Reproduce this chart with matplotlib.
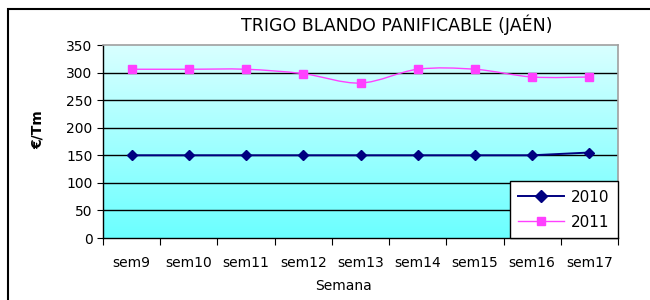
import numpy as np
import matplotlib
matplotlib.use("Agg")
import matplotlib.pyplot as plt
from matplotlib.path import Path
from matplotlib.patches import PathPatch, Rectangle
from matplotlib.lines import Line2D

categories = ["sem9", "sem10", "sem11", "sem12", "sem13", "sem14", "sem15", "sem16", "sem17"]
s2010 = [150, 150, 150, 150, 150, 150, 150, 150, 155]
s2011 = [306, 306, 306, 298, 281, 306, 306, 292, 292]
yticks = [0, 50, 100, 150, 200, 250, 300, 350]

plt.rcParams['font.family'] = ['DejaVu Sans']
fig = plt.figure(figsize=(6.5, 3.0), dpi=100)
W, H = 650, 300
ax = fig.add_axes([103 / W, 1 - 238 / H, (618 - 103) / W, (238 - 45) / H])

# gradient background
grad = np.linspace(0, 1, 256).reshape(-1, 1)
c_top = np.array([0.85, 1.0, 1.0])
c_bot = np.array([0.42, 1.0, 1.0])
img = c_bot + (c_top - c_bot) * grad
ax.imshow(img[:, None, :].repeat(2, axis=1), extent=[0, 1, 0, 1], transform=ax.transAxes,
          origin='lower', aspect='auto', zorder=0)

x = np.arange(len(categories))
ax.set_xlim(-0.5, len(categories) - 0.5)
ax.set_ylim(0, 350)

for yv in yticks[1:-1]:
    ax.axhline(yv, color='black', lw=1.0, zorder=1)

# 2010 line
ax.plot(x, s2010, color='#000080', lw=1.4, marker='D', ms=5.5, mfc='#000080', mec='#000080', zorder=3)

# 2011 smoothed line (Catmull-Rom style bezier through the data points)
pts = np.column_stack([x, s2011]).astype(float)
verts = [tuple(pts[0])]
codes = [Path.MOVETO]
n = len(pts)
for i in range(n - 1):
    p0 = pts[i - 1] if i > 0 else pts[i]
    p1 = pts[i]
    p2 = pts[i + 1]
    p3 = pts[i + 2] if i + 2 < n else pts[i + 1]
    c1 = p1 + (p2 - p0) / 6.0
    c2 = p2 - (p3 - p1) / 6.0
    verts += [tuple(c1), tuple(c2), tuple(p2)]
    codes += [Path.CURVE4] * 3
ax.add_patch(PathPatch(Path(verts, codes), fill=False, edgecolor='#FF40FF', lw=1.0, zorder=3))
ax.plot(x, s2011, linestyle='none', marker='s', ms=6.0, mfc='#FF40FF', mec='#FF40FF', zorder=4)

ax.set_yticks(yticks)
ax.set_yticklabels([str(v) for v in yticks], fontsize=10)
ax.set_xticks(np.arange(-0.5, len(categories), 1.0))
ax.set_xticklabels([])
ax.set_xticks(x, minor=True)
ax.set_xticklabels(categories, minor=True, fontsize=10)
ax.tick_params(axis='x', which='minor', length=0, pad=13)
ax.tick_params(axis='x', which='major', length=5, direction='out', color='black')
ax.tick_params(axis='y', length=4.5, direction='out', color='black', pad=3)

for side in ['top', 'right']:
    ax.spines[side].set_color('#A0A0A0')
    ax.spines[side].set_linewidth(1.2)
for side in ['left', 'bottom']:
    ax.spines[side].set_color('black')
    ax.spines[side].set_linewidth(1.0)

ax.set_xlabel('Semana', fontsize=10)
ax.xaxis.set_label_coords((343 - 103) / 515, (238 - 286) / 193)
ax.xaxis.label.set_va('center')
ax.set_ylabel('€/Tm', fontsize=10, fontweight='bold')
ax.yaxis.set_label_coords((38 - 103) / 515, (238 - 130) / 193)
ax.yaxis.label.set_va('center')

handles = [Line2D([], [], color='#000080', lw=1.4, marker='D', ms=6),
           Line2D([], [], color='#FF40FF', lw=1.0, marker='s', ms=6)]
leg = ax.legend(handles, ['2010', '2011'], loc='lower right', bbox_to_anchor=(1.0, 0.0),
                borderaxespad=0, fancybox=False, framealpha=1, edgecolor='black',
                fontsize=11, handlelength=3.0, handletextpad=0.45, labelspacing=0.65,
                borderpad=0.55)
leg.get_frame().set_linewidth(1.0)
leg.set_zorder(6)

fig.text(397 / W, 1 - 25 / H, 'TRIGO BLANDO PANIFICABLE (JAÉN)', ha='center', va='center', fontsize=12.5)

fig.patches.append(Rectangle((8 / W, -0.1), 1.2, 1.1 - 9 / H,
                             transform=fig.transFigure, fill=False, edgecolor='black', lw=1.5))

fig.savefig('out.png', dpi=100)
